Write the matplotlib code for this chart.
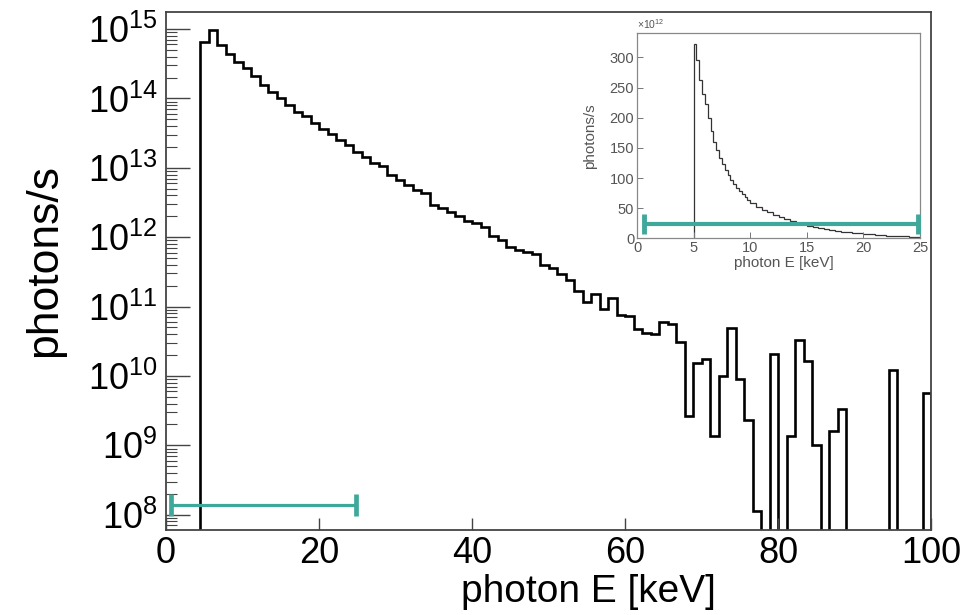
import matplotlib
matplotlib.use("Agg")
import matplotlib.pyplot as plt
import matplotlib.ticker as ticker
import numpy as np

plt.rcParams["font.family"] = ["Liberation Sans", "DejaVu Sans"]
plt.rcParams["mathtext.fontset"] = "custom"
plt.rcParams["mathtext.rm"] = "Liberation Sans"
plt.rcParams["mathtext.default"] = "regular"

# main spectrum: 90 bins over 0-100 keV, log10(photons/s) per bin, None = empty bin
E_MIN, E_MAX, N_BINS = 0.0, 100.0, 90
log_rate = [
    None, None, None, None, 14.82, 14.99, 14.77, 14.64, 14.53, 14.44,
    14.32, 14.20, 14.09, 14.00, 13.91, 13.81, 13.74, 13.64, 13.56, 13.49,
    13.40, 13.33, 13.23, 13.16, 13.07, 13.02, 12.90, 12.83, 12.75, 12.68,
    12.63, 12.46, 12.42, 12.37, 12.31, 12.23, 12.20, 12.15, 12.01, 11.96,
    11.86, 11.81, 11.79, 11.76, 11.60, 11.56, 11.47, 11.38, 11.22, 11.07,
    11.18, 10.96, 11.12, 10.88, 10.86, 10.68, 10.62, 10.61, 10.78, 10.75,
    10.49, 9.43, 10.19, 10.25, 9.13, 10.00, 10.69, 9.95, 9.36, 8.06,
    None, 10.31, None, 9.13, 10.52, 10.22, 9.00, None, 9.21, 9.52,
    None, None, None, None, None, 10.08, None, None, None, 9.76,
]
y_decades = list(range(8, 16))

# inset: linear zoom 5-25 keV, photons/s in units of 1e12
inset_edges = [5.0, 5.25, 5.5, 5.75, 6.0, 6.25, 6.5, 6.75, 7.0, 7.25, 7.5,
               7.75, 8.0, 8.25, 8.5, 8.75, 9.0, 9.25, 9.5, 9.75, 10.0,
               10.5, 11.0, 11.5, 12.0, 12.5, 13.0, 13.5, 14.0, 14.5, 15.0,
               15.5, 16.0, 16.5, 17.0, 17.5, 18.0, 18.5, 19.0, 19.5, 20.0,
               20.5, 21.0, 21.5, 22.0, 22.5, 23.0, 23.5, 24.0, 24.5, 25.0]
inset_rate = [322, 295, 262, 240, 222, 200, 178, 160, 146, 134,
              124, 114, 105, 97, 90, 84, 78, 73, 68, 64,
              58, 52, 47, 43, 39, 35, 32, 29, 26, 23,
              21, 19, 17, 15, 13.5, 12, 11, 10, 9, 8,
              7.2, 6.5, 5.8, 5.2, 4.6, 4.1, 3.6, 3.2, 2.8, 2.5]

# detector energy window (teal bar)
window_keV = (0.6, 24.8)
window_y_main = 10 ** 8.14
window_y_inset = 23

TEAL = "#3fa89b"
Y_LO, Y_HI = 10 ** 7.78, 10 ** 15.25

fig = plt.figure(figsize=(9.63, 6.15), dpi=100)
ax = fig.add_axes([0.1724, 0.1382, 0.7944, 0.8428])

edges = np.linspace(E_MIN, E_MAX, N_BINS + 1)
vals = np.array([10.0 ** v if v is not None else 1e6 for v in log_rate])
ax.stairs(vals, edges, baseline=1e6, color="black", linewidth=1.9)

lo, hi = window_keV
ax.errorbar([(lo + hi) / 2], [window_y_main], xerr=[(hi - lo) / 2], fmt="none",
            ecolor=TEAL, elinewidth=2.3, capsize=8, capthick=3.4, zorder=5)

ax.set_yscale("log")
ax.set_xlim(E_MIN, E_MAX)
ax.set_ylim(Y_LO, Y_HI)
ax.set_xticks(np.arange(0, 101, 20))
# only ticks inside the view (keeps no stray labels below the frame)
major = [10.0 ** d for d in y_decades]
minor = [m * 10.0 ** d for d in range(7, 16) for m in range(2, 10)]
minor = [v for v in minor if Y_LO <= v <= Y_HI]
ax.yaxis.set_major_locator(ticker.FixedLocator(major))
ax.yaxis.set_minor_locator(ticker.FixedLocator(minor))
ax.yaxis.set_major_formatter(ticker.LogFormatterSciNotation())
ax.yaxis.set_minor_formatter(ticker.NullFormatter())
ax.tick_params(axis="both", which="both", direction="in", color="#444444")
ax.tick_params(axis="y", which="major", length=17, width=1.0, labelsize=26, pad=6)
ax.tick_params(axis="y", which="minor", length=8, width=0.8)
ax.tick_params(axis="x", which="major", length=9, width=1.0, labelsize=26, pad=4)
ax.tick_params(axis="x", which="minor", bottom=False)
for s in ax.spines.values():
    s.set_color("#444444")
    s.set_linewidth(1.3)
ax.set_xlabel("photon E [keV]", fontsize=28)
ax.xaxis.set_label_coords(0.552, -0.084)
ax.set_ylabel("photons/s", fontsize=32)
ax.yaxis.set_label_coords(-0.132, 0.52)

# inset
ins = fig.add_axes([0.6615, 0.6125, 0.2939, 0.3333])
ins.stairs(inset_rate, inset_edges, baseline=0, color="#333333", linewidth=0.9)
ins.errorbar([(lo + hi) / 2], [window_y_inset], xerr=[(hi - lo) / 2], fmt="none",
             ecolor=TEAL, elinewidth=3.0, capsize=7, capthick=3.5, zorder=5)
ins.set_xlim(0, 25)
ins.set_ylim(0, 340)
ins.set_xticks(np.arange(0, 26, 5))
ins.set_yticks(np.arange(0, 301, 50))
ins.tick_params(axis="both", direction="in", length=4, width=0.7, color="#777777",
                labelsize=10.5, labelcolor="#555555", pad=2)
for s in ins.spines.values():
    s.set_color("#888888")
    s.set_linewidth(0.9)
ins.set_xlabel("photon E [keV]", fontsize=11, color="#555555")
ins.xaxis.set_label_coords(0.52, -0.085)
ins.set_ylabel("photons/s", fontsize=11, color="#555555")
ins.yaxis.set_label_coords(-0.14, 0.5)
ins.text(0.0, 1.01, r"$\times10^{12}$", transform=ins.transAxes, fontsize=7.5,
         color="#555555", ha="left", va="bottom")

fig.savefig("out.png", dpi=100)
